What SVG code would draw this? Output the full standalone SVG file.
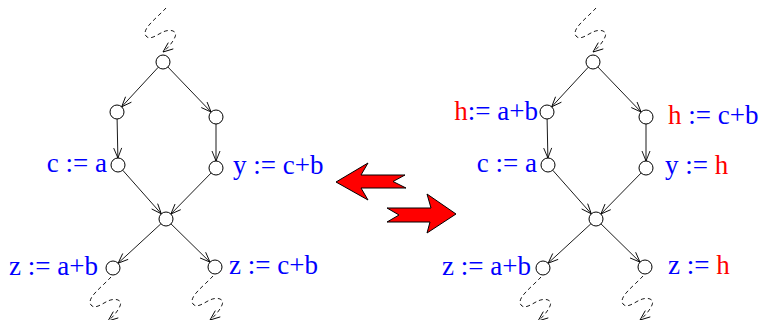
<svg xmlns="http://www.w3.org/2000/svg" width="761" height="320" viewBox="0 0 761 320">
<style>
.n{fill:#fff;stroke:#000;stroke-width:1}
.e{fill:none;stroke:#000;stroke-width:0.9;marker-end:url(#ah)}
.d{fill:none;stroke:#000;stroke-width:0.9;stroke-dasharray:4,3;marker-end:url(#ah)}
.t{font-family:"Liberation Serif","Times New Roman",serif;font-size:27px;fill:#0000ff}
.r{fill:#ff0000}
.big{fill:#ff0000;stroke:#000;stroke-width:1;stroke-linejoin:miter}
</style>
<defs>
<marker id="ah" markerUnits="userSpaceOnUse" markerWidth="12" markerHeight="10" refX="10" refY="4" orient="auto" overflow="visible">
<path d="M0,0 L10,4 L0,8" fill="none" stroke="#000" stroke-width="0.9"/>
</marker>
<path id="sq" d="M0,0 C-9,10 -25,21 -20,28 C-16,33 -8,26 -3,24 C3,21 12,22 9,29 C7,34 2,40 -3,44"/>
</defs>
<rect width="761" height="320" fill="#fff"/>
<g id="connectors">
<use href="#sq" class="d" transform="translate(166,8)"/>
<path class="e" d="M158.3,67.2 L121.7,106.8"/>
<path class="e" d="M167.9,67 L211.1,112"/>
<path class="e" d="M117.1,119 L117.9,158"/>
<path class="e" d="M216,124 L216,161"/>
<path class="e" d="M122.7,170.2 L161.3,213.8"/>
<path class="e" d="M211.1,173 L170.9,214"/>
<path class="e" d="M160.9,223.8 L118.1,263.2"/>
<path class="e" d="M171,223.9 L210,262.1"/>
<use href="#sq" class="d" transform="translate(111,277)"/>
<use href="#sq" class="d" transform="translate(213,276)"/>
<use href="#sq" class="d" transform="translate(596,8)"/>
<path class="e" d="M588.3,67.2 L551.7,106.8"/>
<path class="e" d="M597.9,67 L641.1,112"/>
<path class="e" d="M547.1,119 L547.9,158"/>
<path class="e" d="M646,124 L646,161"/>
<path class="e" d="M552.7,170.2 L591.3,213.8"/>
<path class="e" d="M641.1,173 L600.9,214"/>
<path class="e" d="M590.9,223.8 L548.1,263.2"/>
<path class="e" d="M601,223.9 L640,262.1"/>
<use href="#sq" class="d" transform="translate(541,277)"/>
<use href="#sq" class="d" transform="translate(643,276)"/>
</g>
<g id="L_top"><circle class="n" cx="163" cy="62" r="7"/></g>
<g id="L_left"><circle class="n" cx="117" cy="112" r="7"/></g>
<g id="L_right"><circle class="n" cx="216" cy="117" r="7"/></g>
<g id="L_c"><circle class="n" cx="118" cy="165" r="7"/><text class="t" x="107" y="172" text-anchor="end">c := a</text></g>
<g id="L_y"><circle class="n" cx="216" cy="168" r="7"/><text class="t" x="233" y="174">y := c+b</text></g>
<g id="L_mid"><circle class="n" cx="166" cy="219" r="7"/></g>
<g id="L_za"><circle class="n" cx="113" cy="268" r="7"/><text class="t" x="98" y="275" text-anchor="end">z := a+b</text></g>
<g id="L_zc"><circle class="n" cx="215" cy="267" r="7"/><text class="t" x="229" y="274">z := c+b</text></g>
<g id="R_top"><circle class="n" cx="593" cy="62" r="7"/></g>
<g id="R_left"><circle class="n" cx="547" cy="112" r="7"/><text class="t" x="538" y="120" text-anchor="end"><tspan class="r">h</tspan>:= a+b</text></g>
<g id="R_right"><circle class="n" cx="646" cy="117" r="7"/><text class="t" x="668" y="124"><tspan class="r">h</tspan> := c+b</text></g>
<g id="R_c"><circle class="n" cx="548" cy="165" r="7"/><text class="t" x="537" y="172" text-anchor="end">c := a</text></g>
<g id="R_y"><circle class="n" cx="646" cy="168" r="7"/><text class="t" x="665" y="174">y := <tspan class="r">h</tspan></text></g>
<g id="R_mid"><circle class="n" cx="596" cy="219" r="7"/></g>
<g id="R_za"><circle class="n" cx="543" cy="268" r="7"/><text class="t" x="531" y="275" text-anchor="end">z := a+b</text></g>
<g id="R_zh"><circle class="n" cx="645" cy="267" r="7"/><text class="t" x="668" y="274">z := <tspan class="r">h</tspan></text></g>
<g id="arrow_left"><polygon class="big" points="336,182 368,163 361,175 405,175 393,181.5 406,188 361,188 368,200"/></g>
<g id="arrow_right"><polygon class="big" points="387,208 399,215 387,222 430,222 427,233 456,214 427,194 431,208"/></g>
</svg>
